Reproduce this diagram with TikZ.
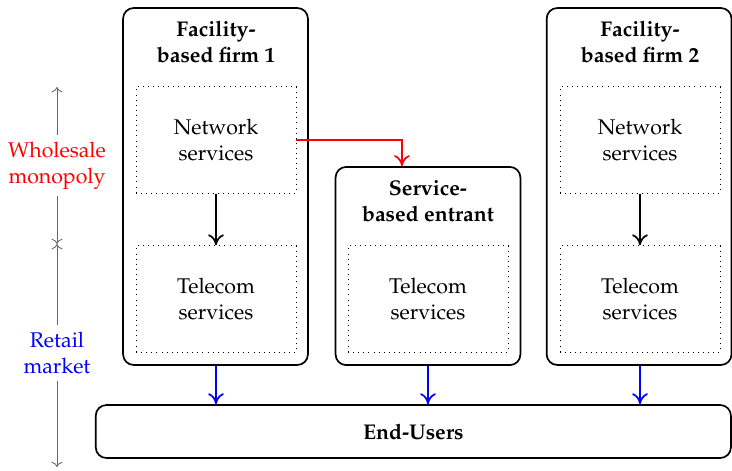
\documentclass[tikz,border=0pt]{standalone}
\usepackage[T1]{fontenc}
\usepackage{mathpazo}
\usetikzlibrary{arrows.meta, positioning}

\begin{document}
\begin{tikzpicture}[
    firm/.style={
        rectangle,
        rounded corners=5pt,
        draw=black,
        thick,
        minimum width=3.05cm
    },
    heading/.style={font=\bfseries, align=center},
    layer/.style={
        rectangle,
        draw=black,
        dotted,
        minimum width=2.64cm,
        minimum height=1.76cm,
        align=center
    },
    arrow/.style={thick, -{To[length=1.8mm, width=2.6mm]}},
    span/.style={draw=black!60, <->}
]
\useasboundingbox (0,0) rectangle (12.078,-7.755);

% facility-based firm 1
\node[firm, minimum height=5.89cm] (f1) at (3.556,-3.077) {};
\node[heading] (h1) at (3.564,-0.69) {Facility-\\based firm 1};
\node[layer] (net1) at (3.564,-2.31) {Network\\services};
\node[layer] (tel1) at (3.564,-4.934) {Telecom\\services};

% service-based entrant
\node[firm, minimum height=3.27cm] (sbe) at (7.062,-4.389) {};
\node[heading] (h2) at (7.062,-3.32) {Service-\\based entrant};
\node[layer] (tel2) at (7.062,-4.934) {Telecom\\services};

% facility-based firm 2
\node[firm, minimum height=5.89cm] (f2) at (10.545,-3.077) {};
\node[heading] (h3) at (10.56,-0.69) {Facility-\\based firm 2};
\node[layer] (net2) at (10.56,-2.31) {Network\\services};
\node[layer] (tel3) at (10.56,-4.934) {Telecom\\services};

\node[firm, minimum width=10.48cm, minimum height=0.874cm, font=\bfseries] (users) at (6.82,-7.12) {End-Users};

\draw[arrow] (net1) -- (tel1);
\draw[arrow] (net2) -- (tel3);
\draw[arrow, red] (net1.east) -| ([xshift=-0.43cm]sbe.north);

\draw[arrow, blue] (f1.south -| tel1) -- (users.north -| tel1);
\draw[arrow, blue] (sbe) -- (users.north -| sbe);
\draw[arrow, blue] (f2.south -| tel3) -- (users.north -| tel3);

% market levels
\coordinate (wtop) at (0.94,-1.436);
\coordinate (wmid) at (0.94,-4.026);
\coordinate (wbot) at (0.94,-7.706);
\draw[span] (wtop) -- node[fill=white, text=red, align=center] {Wholesale\\monopoly} (wmid);
\draw[span] (wmid) -- node[pos=0.49, fill=white, text=blue, align=center] {Retail\\market} (wbot);

\end{tikzpicture}
\end{document}
